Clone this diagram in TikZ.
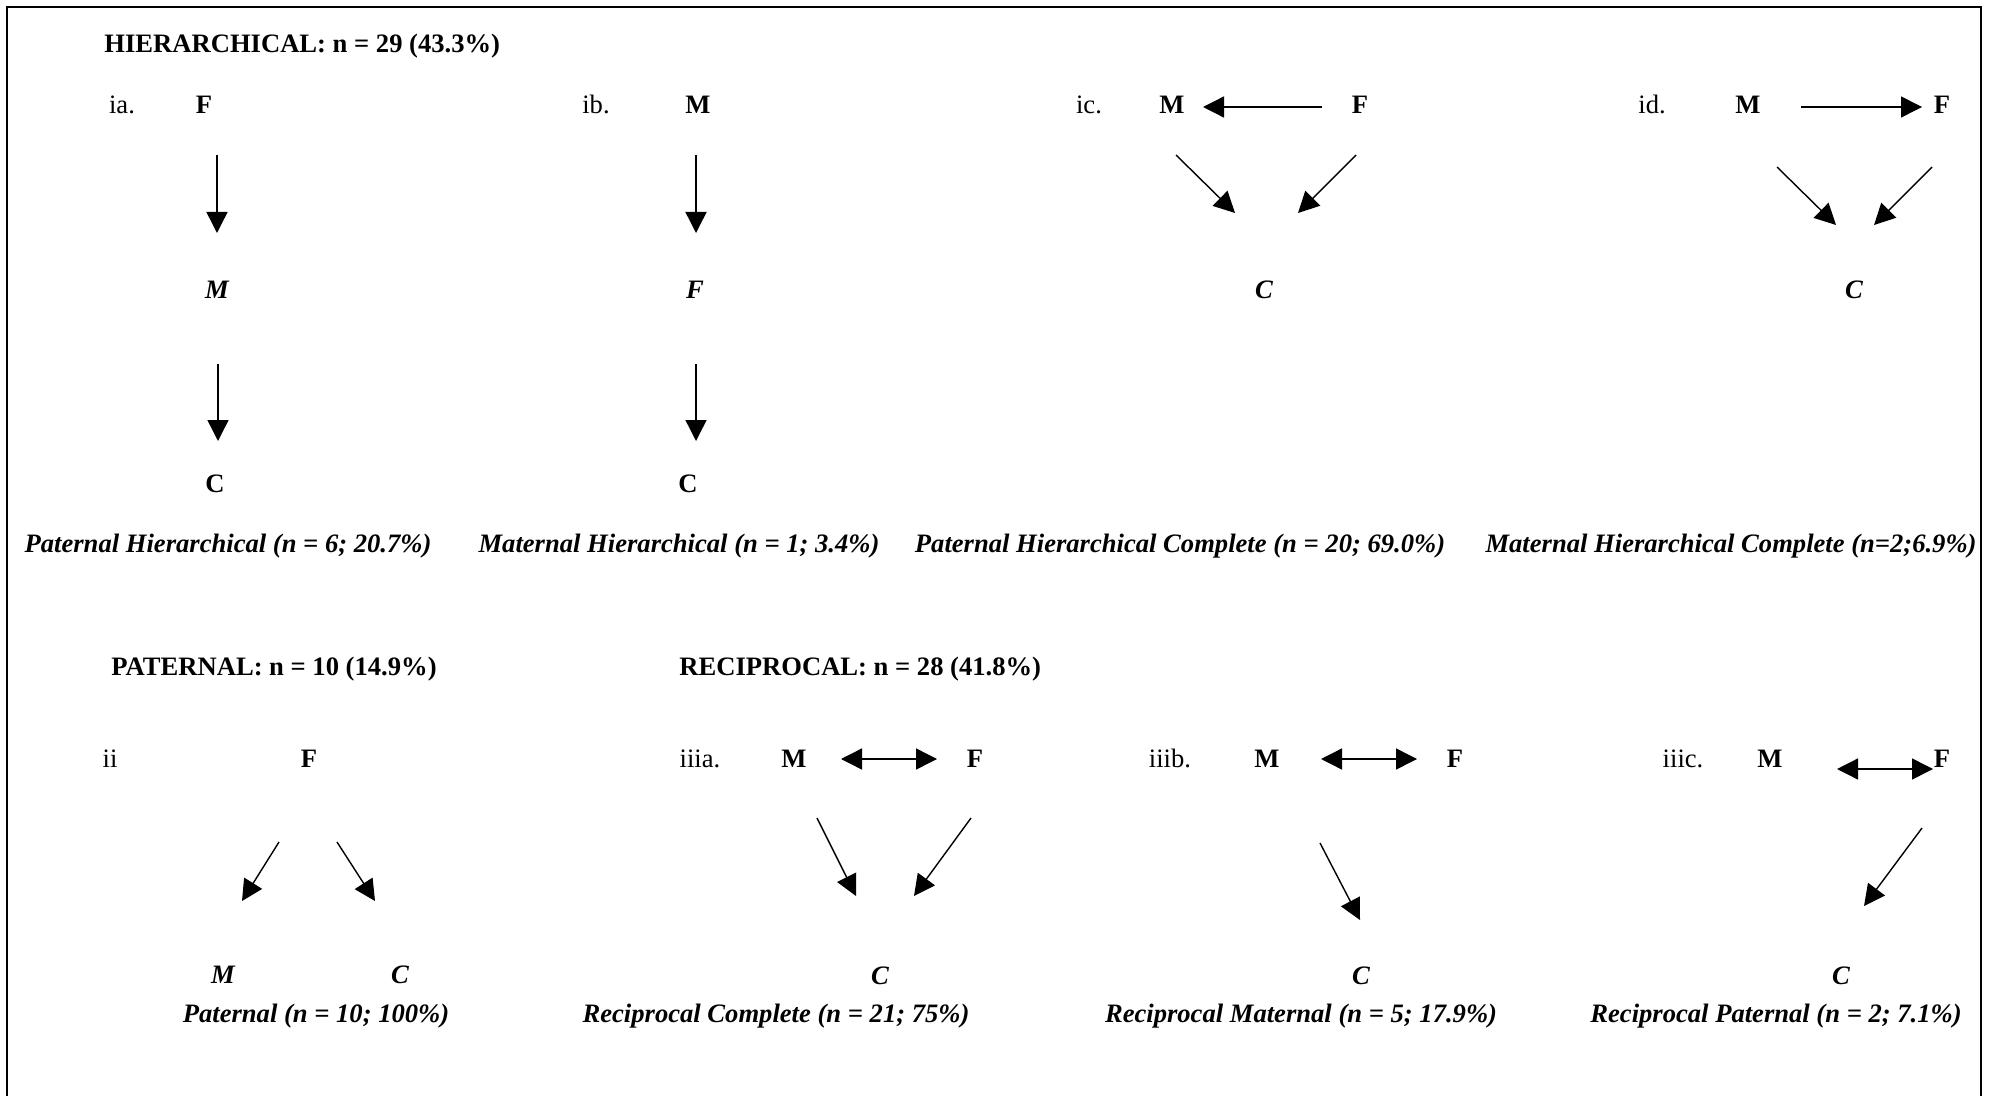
\documentclass[tikz,border=0pt]{standalone}
\usepackage{fontspec}
\setmainfont{Liberation Serif}
\usetikzlibrary{arrows.meta}
\tikzset{
  txt/.style={anchor=base, inner sep=0pt, font=\fontsize{13.3}{16}\selectfont},
  bfn/.style={txt, font=\fontsize{13.3}{16}\selectfont\bfseries},
  bin/.style={txt, font=\fontsize{13.3}{16}\selectfont\bfseries\itshape},
  ttl/.style={bfn, anchor=base west},
  arr/.style={line width=0.7pt, -{Triangle[length=10.5pt,width=10.5pt]}},
  darr/.style={line width=0.7pt, {Triangle[length=10.5pt,width=10.5pt]}-{Triangle[length=10.5pt,width=10.5pt]}},
  frame/.style={line width=1pt}
}
\begin{document}
\begin{tikzpicture}[x=0.5pt,y=-0.5pt]
\useasboundingbox (0,0) rectangle (1989,1096);
\coordinate (fbl) at (6.7,1100); \coordinate (ftl) at (6.7,6.7);
\coordinate (ftr) at (1981,6.7); \coordinate (fbr) at (1981,1100);
\draw[frame] (fbl) -- (ftl) -- (ftr) -- (fbr);

% ---------------- Row 1 ----------------
\node[ttl] (t1) at (104,53) {HIERARCHICAL: n = 29 (43.3\%)};

% ia
\node[txt] (ia) at (122,114) {ia.};
\node[bfn] (iaF) at (204,114) {F};
\node[bin] (iaM) at (217,299) {M};
\node[bfn] (iaC) at (215,492) {C};
\coordinate (ia1a) at (217,155); \coordinate (ia1b) at (217,233);
\coordinate (ia2a) at (218,364); \coordinate (ia2b) at (218,441);
\draw[arr] (ia1a) -- (ia1b);
\draw[arr] (ia2a) -- (ia2b);
\node[bin] (iacap) at (228,552) {Paternal Hierarchical (n = 6; 20.7\%)};

% ib
\node[txt] (ib) at (596,114) {ib.};
\node[bfn] (ibM) at (698,114) {M};
\node[bin] (ibF) at (695,299) {F};
\node[bfn] (ibC) at (688,492) {C};
\coordinate (ib1a) at (696,155); \coordinate (ib1b) at (696,233);
\coordinate (ib2a) at (696,364); \coordinate (ib2b) at (696,441);
\draw[arr] (ib1a) -- (ib1b);
\draw[arr] (ib2a) -- (ib2b);
\node[bin] (ibcap) at (679,552) {Maternal Hierarchical (n = 1; 3.4\%)};

% ic
\node[txt] (ic) at (1089,114) {ic.};
\node[bfn] (icM) at (1172,114) {M};
\node[bfn] (icF) at (1360,114) {F};
\node[bin] (icC) at (1264,299) {C};
\coordinate (ich1) at (1322,107); \coordinate (ich2) at (1203,107);
\draw[arr] (ich1) -- (ich2);
\coordinate (icl1) at (1176,155); \coordinate (icl2) at (1235,213);
\coordinate (icr1) at (1356,155); \coordinate (icr2) at (1298,213);
\draw[arr] (icl1) -- (icl2);
\draw[arr] (icr1) -- (icr2);
\node[bin] (iccap) at (1180,552) {Paternal Hierarchical Complete (n = 20; 69.0\%)};

% id
\node[txt] (id) at (1652,114) {id.};
\node[bfn] (idM) at (1748,114) {M};
\node[bfn] (idF) at (1942,114) {F};
\node[bin] (idC) at (1854,299) {C};
\coordinate (idh1) at (1801,107); \coordinate (idh2) at (1922,107);
\draw[arr] (idh1) -- (idh2);
\coordinate (idl1) at (1777,167); \coordinate (idl2) at (1836,225);
\coordinate (idr1) at (1932,167); \coordinate (idr2) at (1874,225);
\draw[arr] (idl1) -- (idl2);
\draw[arr] (idr1) -- (idr2);
\node[bin] (idcap) at (1731,552) {Maternal Hierarchical Complete (n=2;6.9\%)};

% ---------------- Row 2 ----------------
\node[ttl] (t2) at (111,675) {PATERNAL: n = 10 (14.9\%)};
\node[ttl] (t3) at (679,675) {RECIPROCAL: n = 28 (41.8\%)};

% ii
\node[txt] (ii) at (110,767) {ii};
\node[bfn] (iiF) at (309,767) {F};
\node[bin] (iiM) at (223,983) {M};
\node[bin] (iiC) at (400,983) {C};
\coordinate (iil1) at (279,842); \coordinate (iil2) at (242,901);
\coordinate (iir1) at (337,842); \coordinate (iir2) at (375,901);
\draw[arr] (iil1) -- (iil2);
\draw[arr] (iir1) -- (iir2);
\node[bin] (iicap) at (316,1022) {Paternal (n = 10; 100\%)};

% iiia
\node[txt] (iiia) at (700,767) {iiia.};
\node[bfn] (iiiaM) at (794,767) {M};
\node[bfn] (iiiaF) at (975,767) {F};
\node[bin] (iiiaC) at (880,984) {C};
\coordinate (iiiah1) at (841,759); \coordinate (iiiah2) at (937,759);
\draw[darr] (iiiah1) -- (iiiah2);
\coordinate (iiial1) at (817,818); \coordinate (iiial2) at (856,896);
\coordinate (iiiar1) at (971,818); \coordinate (iiiar2) at (914,896);
\draw[arr] (iiial1) -- (iiial2);
\draw[arr] (iiiar1) -- (iiiar2);
\node[bin] (iiiacap) at (776,1022) {Reciprocal Complete (n = 21; 75\%)};

% iiib
\node[txt] (iiib) at (1170,767) {iiib.};
\node[bfn] (iiibM) at (1267,767) {M};
\node[bfn] (iiibF) at (1455,767) {F};
\node[bin] (iiibC) at (1361,984) {C};
\coordinate (iiibh1) at (1321,759); \coordinate (iiibh2) at (1417,759);
\draw[darr] (iiibh1) -- (iiibh2);
\coordinate (iiibl1) at (1320,843); \coordinate (iiibl2) at (1360,920);
\draw[arr] (iiibl1) -- (iiibl2);
\node[bin] (iiibcap) at (1301,1022) {Reciprocal Maternal (n = 5; 17.9\%)};

% iiic
\node[txt] (iiic) at (1683,767) {iiic.};
\node[bfn] (iiicM) at (1770,767) {M};
\node[bfn] (iiicF) at (1942,767) {F};
\node[bin] (iiicC) at (1841,984) {C};
\coordinate (iiich1) at (1837,769); \coordinate (iiich2) at (1933,769);
\draw[darr] (iiich1) -- (iiich2);
\coordinate (iiicr1) at (1922,828); \coordinate (iiicr2) at (1864,906);
\draw[arr] (iiicr1) -- (iiicr2);
\node[bin] (iiiccap) at (1776,1022) {Reciprocal Paternal (n = 2; 7.1\%)};
\end{tikzpicture}
\end{document}
